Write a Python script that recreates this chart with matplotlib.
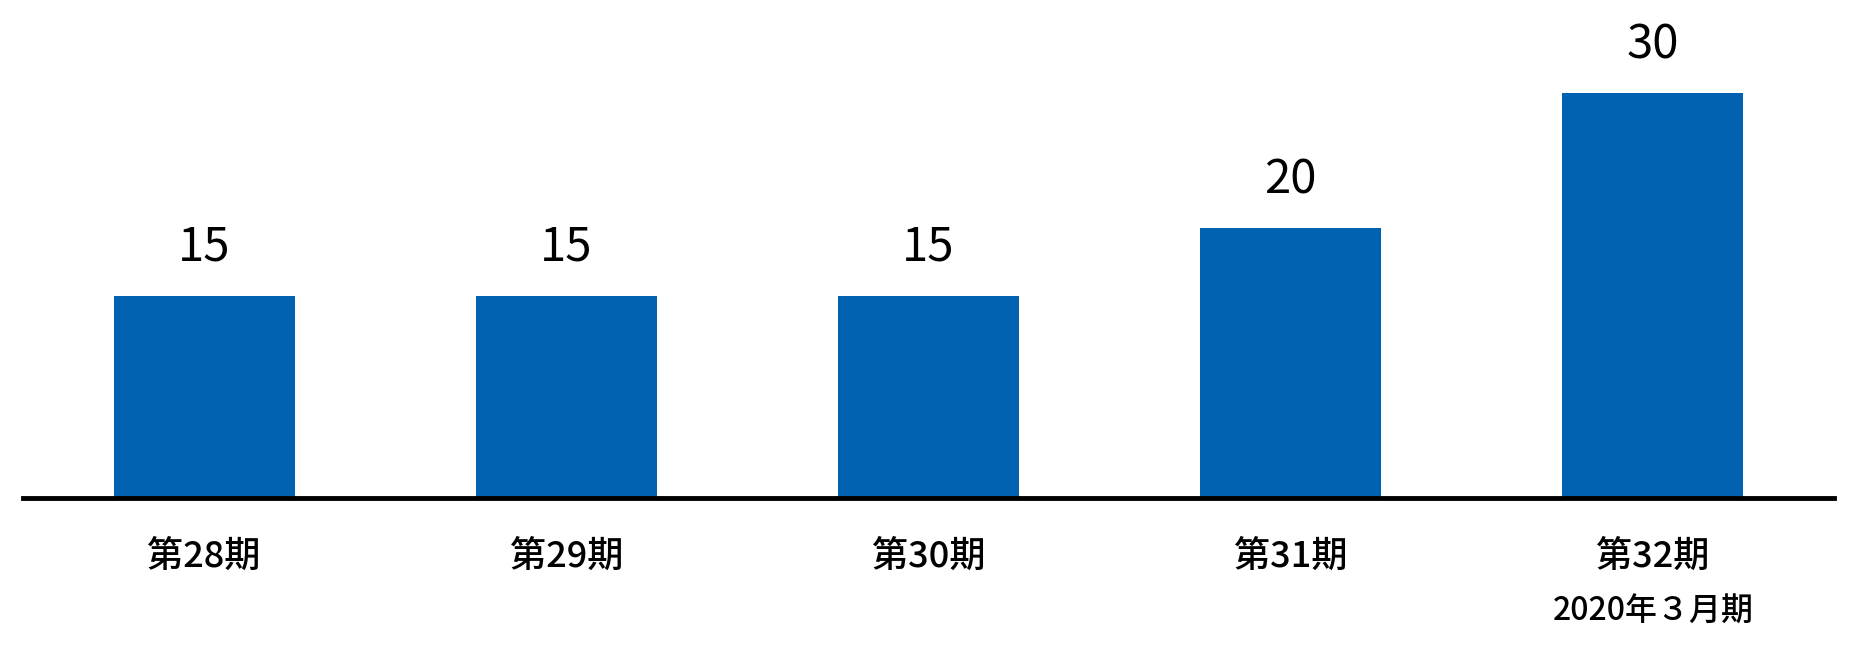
import numpy as np
import matplotlib.pyplot as plt

plt.rcParams['font.family'] = ['Noto Sans CJK JP', 'DejaVu Sans']

periods = ['第28期', '第29期', '第30期', '第31期', '第32期']
values = [15, 15, 15, 20, 30]
sub_labels = ['', '', '', '', '2020年３月期']

bar_color = '#0062b0'


def main():
    fig = plt.figure(figsize=(18.58, 6.46), dpi=100)
    ax = fig.add_axes([23 / 1858, 148 / 646, 1811 / 1858, 472.5 / 646])

    x = np.arange(len(periods))
    bars = ax.bar(x, values, width=0.5, color=bar_color, zorder=2)
    ax.bar_label(bars, labels=[str(v) for v in values], padding=17, fontsize=34)

    ax.set_xlim(-0.5, len(periods) - 0.5)
    ax.set_ylim(0, 35)

    for side in ['top', 'right', 'left']:
        ax.spines[side].set_visible(False)
    ax.spines['bottom'].set_linewidth(3.5)
    ax.spines['bottom'].set_zorder(3)

    ax.set_yticks([])
    ax.set_xticks(x)
    ax.set_xticklabels(periods, fontsize=26, fontweight='medium')
    ax.tick_params(axis='x', length=0, pad=29)

    for i, s in enumerate(sub_labels):
        if s:
            ax.annotate(s, xy=(i, 0), xycoords='data', xytext=(0, -114),
                        textcoords='offset pixels', ha='center', va='center',
                        fontsize=23, fontweight='medium')

    fig.savefig('out.png', dpi=100)


if __name__ == '__main__':
    main()
